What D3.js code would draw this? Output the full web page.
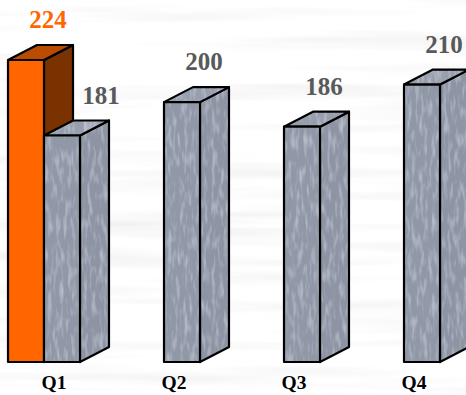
<!DOCTYPE html>
<html>
<head>
<meta charset="utf-8">
<script src="https://cdn.jsdelivr.net/npm/d3@7"></script>
<style>
  html, body { margin: 0; padding: 0; background: #fff; }
  svg { display: block; }
</style>
</head>
<body>
<div id="chart"></div>
<script>
const categories = ["Q1", "Q2", "Q3", "Q4"];
const currentValues = [181, 200, 186, 210];
const priorCategories = ["Q1"];
const priorValues = [224];

const width = 466, height = 395;
const base = 362, depthX = 29, depthY = -15, barW = 36;

const svg = d3.select("#chart").append("svg")
    .attr("width", width)
    .attr("height", height);

const defs = svg.append("defs");

// faint streaky backdrop
const bg = defs.append("filter").attr("id", "streaks")
    .attr("x", 0).attr("y", 0).attr("width", 1).attr("height", 1);
bg.append("feTurbulence").attr("type", "fractalNoise")
    .attr("baseFrequency", "0.003 0.06").attr("numOctaves", 3).attr("seed", 7).attr("result", "n");
bg.append("feColorMatrix").attr("in", "n").attr("type", "matrix")
    .attr("values", "0 0 0 0 0.6  0 0 0 0 0.6  0 0 0 0 0.6  -0.7 0 0 0 0.38").attr("result", "g");
bg.append("feMerge").call(m => {
    m.append("feMergeNode").attr("in", "SourceGraphic");
    m.append("feMergeNode").attr("in", "g");
});

// speckled metal for the grey bars
const grain = defs.append("filter").attr("id", "grain")
    .attr("x", 0).attr("y", 0).attr("width", 1).attr("height", 1);
grain.append("feTurbulence").attr("type", "fractalNoise")
    .attr("baseFrequency", "0.25 0.06").attr("numOctaves", 2).attr("seed", 3).attr("result", "n");
grain.append("feColorMatrix").attr("in", "n").attr("type", "matrix")
    .attr("values", "0 0 0 0 0.82  0 0 0 0 0.85  0 0 0 0 0.9  0.9 0 0 0 -0.42").attr("result", "w");
grain.append("feComposite").attr("in", "w").attr("in2", "SourceGraphic").attr("operator", "in").attr("result", "wc");
grain.append("feMerge").call(m => {
    m.append("feMergeNode").attr("in", "SourceGraphic");
    m.append("feMergeNode").attr("in", "wc");
});

svg.append("rect")
    .attr("width", width).attr("height", height)
    .attr("fill", "#fff")
    .attr("filter", "url(#streaks)");

const x = d3.scaleBand().domain(categories).range([-8, 472]);
const y = d3.scaleLinear().domain([52, 224]).range([base, 60]);

const bars = [];
priorCategories.forEach((c, i) => bars.push({cat: c, v: priorValues[i], prior: true}));
categories.forEach((c, i) => bars.push({cat: c, v: currentValues[i], prior: false}));

const fillOf = {
    front: d => d.prior ? "#ff6600" : "#9098a8",
    side: d => d.prior ? "#7a3300" : "#8d95a5",
    top: d => d.prior ? "#b84c00" : "#979eae"
};

function left(d) {
    const g = x(d.cat) + x.bandwidth() / 2 - 8;
    return d.prior ? g - barW : g;
}

function faces(d) {
    const x0 = left(d), x1 = x0 + barW, yt = y(d.v);
    return {
        front: [[x0, yt], [x1, yt], [x1, base], [x0, base]],
        side: [[x1, yt], [x1 + depthX, yt + depthY], [x1 + depthX, base + depthY], [x1, base]],
        top: [[x0, yt], [x0 + depthX, yt + depthY], [x1 + depthX, yt + depthY], [x1, yt]]
    };
}

const line = d3.line().curve(d3.curveLinearClosed);

const g = svg.append("g")
    .selectAll("g")
    .data(bars)
    .join("g");

["side", "top", "front"].forEach(k => {
    g.append("path")
        .attr("d", d => line(faces(d)[k]))
        .attr("fill", fillOf[k])
        .attr("filter", d => d.prior ? null : "url(#grain)");
    g.append("path")
        .attr("d", d => line(faces(d)[k]))
        .attr("fill", "none")
        .attr("stroke", "#000")
        .attr("stroke-width", 2.2)
        .attr("stroke-linejoin", "round");
});

// value labels
svg.append("g")
    .selectAll("text")
    .data(bars)
    .join("text")
    .attr("x", d => {
        const nudge = (!d.prior && priorCategories.includes(d.cat)) ? 17 : 0;
        return left(d) + barW / 2 + 22 + nudge;
    })
    .attr("y", d => y(d.v) - 32)
    .attr("text-anchor", "middle")
    .attr("font-family", "'Liberation Serif', 'Times New Roman', serif")
    .attr("font-weight", "bold")
    .attr("font-size", 25)
    .attr("fill", d => d.prior ? "#ff6600" : "#595959")
    .text(d => d.v);

// category labels
svg.append("g")
    .selectAll("text")
    .data(categories)
    .join("text")
    .attr("x", d => x(d) + x.bandwidth() / 2 + 2)
    .attr("y", 389)
    .attr("text-anchor", "middle")
    .attr("font-family", "'Liberation Serif', 'Times New Roman', serif")
    .attr("font-weight", "bold")
    .attr("font-size", 19.5)
    .attr("fill", "#000")
    .text(d => d);
</script>
</body>
</html>
